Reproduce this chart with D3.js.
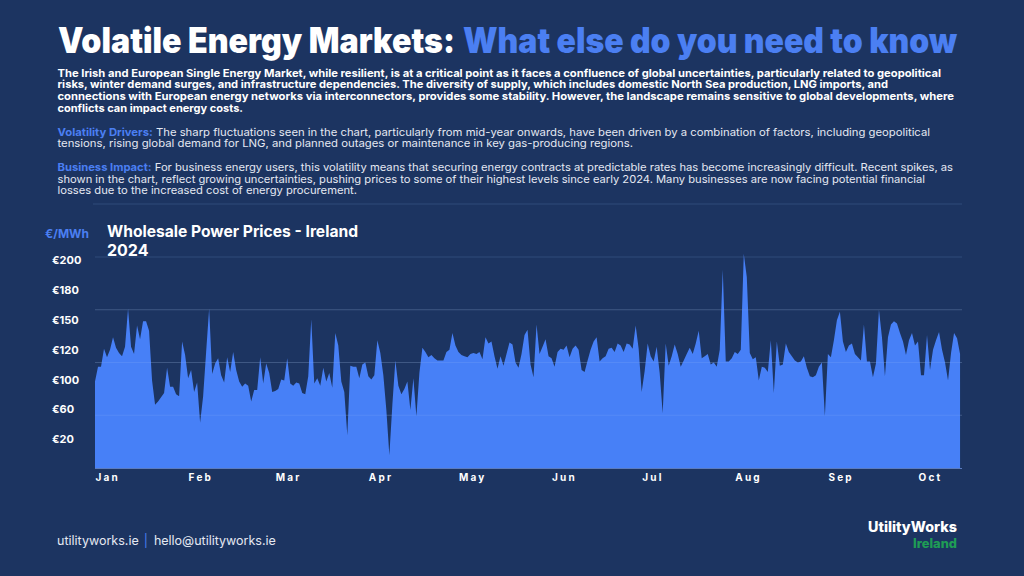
<!DOCTYPE html>
<html>
<head>
<meta charset="utf-8">
<script src="https://cdn.jsdelivr.net/npm/d3@7/dist/d3.min.js"></script>
<style>
  html, body { margin: 0; padding: 0; background: #1c3461; }
  svg { display: block; }
  text { font-family: Inter, "Open Sans", sans-serif; }
</style>
</head>
<body>
<svg id="chart" width="1024" height="576"></svg>
<script>
// ---------- DATA ----------
const startDate = "2024-01-01";
// daily wholesale power price, €/MWh, Jan 1 .. Oct 15 2024
const prices = [
  82, 96, 96,113,105,112,124,114,109,106,115,151,115,108,135,122,139,139,130, 83,
  60, 63, 67, 71, 95, 77, 77, 70, 68,120,107, 85, 93, 72, 81, 43, 68,110,151, 89,
  99,104, 88, 81,105, 91,110, 93, 82, 77, 80, 78, 63, 74, 74,105, 80, 99, 90, 72,
  73, 75, 84, 83,104, 80, 78, 81, 80, 71, 70, 87,141, 80, 85, 78, 95, 82, 90, 76,
 128,116, 82, 72, 31, 97, 96, 96, 85, 98,100, 87, 84, 88,121,109, 88, 55, 12, 60,
 102, 78, 70, 75, 82, 55, 85, 49, 90,114,110,105,107,104,102,102,102,110,112,128,
 116,110,107,106,105,108,109,108,110,103,124,118,120,106, 94,106, 97,108,119,117,
 100, 95,108,126,131, 98, 86,136,108,115,122,106,104, 96,110,113,112,116,105,113,
 116,112, 93, 91,102,112,120,124,101,104,106,113,114,110,118,116,110,118,117,113,
 135,113, 72, 92,118,106,101,115, 90, 52,118, 97,106,117,108, 96,102,108,114,108,
 118,130,104,106,108, 98,100, 96,112,188,101,101,104,110,108,112,203,181,109,103,
 105, 83, 96, 95, 91,121, 71,120, 97, 98,118,110,106,102,100,101,106, 95, 87, 86,
  88, 96,100, 49,108,105,121,140,148,120,110,116,118,108,105,102,136,101,101, 86,
  99,150,124, 87,124,136,139,137,128,120,107,121,128,116,120, 88, 88,126, 93,112,
 121,129,112,100, 83,109,128,123,108
];
const yGridValues = [50, 100, 150, 200];
const yTickLabels = ["€200", "€180", "€150", "€120", "€100", "€60", "€20"];
const unitLabel = "€/MWh";
const chartTitle = "Wholesale Power Prices - Ireland";
const chartYear = "2024";

const titleWhite = "Volatile Energy Markets:";
const titleBlue = "What else do you need to know";
const introLines = [
  "The Irish and European Single Energy Market, while resilient, is at a critical point as it faces a confluence of global uncertainties, particularly related to geopolitical",
  "risks, winter demand surges, and infrastructure dependencies. The diversity of supply, which includes domestic North Sea production, LNG imports, and",
  "connections with European energy networks via interconnectors, provides some stability. However, the landscape remains sensitive to global developments, where",
  "conflicts can impact energy costs."
];
const driversLead = "Volatility Drivers:";
const driversLines = [
  " The sharp fluctuations seen in the chart, particularly from mid-year onwards, have been driven by a combination of factors, including geopolitical",
  "tensions, rising global demand for LNG, and planned outages or maintenance in key gas-producing regions."
];
const impactLead = "Business Impact:";
const impactLines = [
  " For business energy users, this volatility means that securing energy contracts at predictable rates has become increasingly difficult. Recent spikes, as",
  "shown in the chart, reflect growing uncertainties, pushing prices to some of their highest levels since early 2024. Many businesses are now facing potential financial",
  "losses due to the increased cost of energy procurement."
];
const footerSite = "utilityworks.ie";
const footerMail = "hello@utilityworks.ie";
const logoName = "UtilityWorks";
const logoRegion = "Ireland";

// ---------- STYLE ----------
const C = {
  bg: "#1c3461",
  blue: "#4b7ff2",
  area: "#4780f7",
  white: "#ffffff",
  body: "#e4e8f2",
  grid: "#2f4a7a",
  base: "#5b7cc0",
  green: "#1f9d55"
};

const svg = d3.select("#chart");
svg.append("rect").attr("width", 1024).attr("height", 576).attr("fill", C.bg);

// ---------- HEADER ----------
svg.append("text").attr("x", 58).attr("y", 52.5)
  .attr("font-size", 35).attr("font-weight", 900).attr("fill", C.white)
  .attr("textLength", 397).attr("lengthAdjust", "spacingAndGlyphs")
  .text(titleWhite);
svg.append("text").attr("x", 463).attr("y", 52.5)
  .attr("font-size", 35).attr("font-weight", 900).attr("fill", C.blue)
  .attr("textLength", 494).attr("lengthAdjust", "spacingAndGlyphs")
  .text(titleBlue);

function para(lines, y0, ends, lead, bold) {
  lines.forEach((ln, i) => {
    const t = svg.append("text").attr("x", 57.5).attr("y", y0 + i * 11.7)
      .attr("font-size", 10.8).attr("fill", bold ? C.white : C.body)
      .attr("font-weight", bold ? 700 : 400)
      .attr("textLength", ends[i] - 57.5).attr("lengthAdjust", "spacingAndGlyphs");
    if (i === 0 && lead) {
      t.append("tspan").attr("fill", C.blue).attr("font-weight", 700).text(lead);
    }
    t.append("tspan").text(ln);
  });
}
para(introLines, 76.5, [941, 888, 954, 243], null, true);
para(driversLines, 135.5, [930, 633], driversLead, false);
para(impactLines, 171, [953, 925, 357], impactLead, false);

// separator under text
svg.append("line").attr("x1", 93).attr("x2", 962).attr("y1", 204).attr("y2", 204)
  .attr("stroke", C.grid).attr("stroke-width", 1);

// ---------- CHART ----------
const parse = d3.timeParse("%Y-%m-%d");
const t0 = parse(startDate);
const data = prices.map((v, i) => ({ date: d3.timeDay.offset(t0, i), value: v }));

const x = d3.scaleTime()
  .domain([t0, parse("2024-10-01")])
  .range([95, 918]);
const y = d3.scaleLinear().domain([0, 200]).range([468, 257]);

// gridlines
svg.append("g").selectAll("line").data(yGridValues).join("line")
  .attr("x1", 95).attr("x2", 962)
  .attr("y1", d => y(d)).attr("y2", d => y(d))
  .attr("stroke", C.grid).attr("stroke-width", 1);

// area
const area = d3.area()
  .x(d => x(d.date)).y0(y(0)).y1(d => y(d.value))
  .curve(d3.curveLinear);
svg.append("path").datum(data).attr("d", area).attr("fill", C.area);

// gridlines visible through area (faint)
svg.append("g").selectAll("line").data(yGridValues.slice(0, 3)).join("line")
  .attr("x1", 95).attr("x2", 962)
  .attr("y1", d => y(d)).attr("y2", d => y(d))
  .attr("stroke", "#ffffff").attr("stroke-opacity", 0.08).attr("stroke-width", 1);

// x axis
const xAxis = d3.axisBottom(x)
  .ticks(d3.timeMonth.every(1))
  .tickFormat(d3.timeFormat("%b"))
  .tickSize(0).tickPadding(6);
const gx = svg.append("g").attr("transform", `translate(0,${y(0)})`).call(xAxis);
gx.select(".domain").remove();
gx.selectAll("text")
  .attr("text-anchor", "start")
  .attr("fill", C.white).attr("font-size", 10).attr("font-weight", 700)
  .attr("letter-spacing", "2.2px")
  .attr("font-family", "Inter, sans-serif");
svg.append("line").attr("x1", 95).attr("x2", 962).attr("y1", y(0) + 0.5).attr("y2", y(0) + 0.5)
  .attr("stroke", C.base).attr("stroke-width", 1);

// y labels (evenly spaced, as in the original)
const yl = d3.scalePoint().domain(yTickLabels).range([260, 439.5]);
svg.append("g").selectAll("text").data(yTickLabels).join("text")
  .attr("x", 52).attr("y", d => yl(d)).attr("dy", "0.35em")
  .attr("fill", C.white).attr("font-size", 11).attr("font-weight", 700)
  .text(d => d);

svg.append("text").attr("x", 45).attr("y", 238)
  .attr("fill", C.blue).attr("font-size", 11.5).attr("font-weight", 700)
  .attr("textLength", 44).attr("lengthAdjust", "spacingAndGlyphs")
  .text(unitLabel);

svg.append("text").attr("x", 107).attr("y", 237)
  .attr("fill", C.white).attr("font-size", 16).attr("font-weight", 700)
  .attr("textLength", 251).attr("lengthAdjust", "spacingAndGlyphs")
  .text(chartTitle);
svg.append("text").attr("x", 107).attr("y", 256)
  .attr("fill", C.white).attr("font-size", 16).attr("font-weight", 700)
  .text(chartYear);

// ---------- FOOTER ----------
const ft = svg.append("text").attr("x", 57).attr("y", 544.5)
  .attr("font-size", 12.5).attr("fill", C.body);
ft.append("tspan").text(footerSite);
ft.append("tspan").attr("dx", 5).attr("fill", C.blue).text("|");
ft.append("tspan").attr("dx", 6).text(footerMail);

svg.append("text").attr("x", 868).attr("y", 532)
  .attr("font-size", 14).attr("font-weight", 800).attr("fill", C.white)
  .attr("textLength", 89).attr("lengthAdjust", "spacingAndGlyphs")
  .text(logoName);
svg.append("text").attr("x", 913).attr("y", 548)
  .attr("font-size", 12.5).attr("font-weight", 800).attr("fill", C.green)
  .attr("textLength", 44).attr("lengthAdjust", "spacingAndGlyphs")
  .text(logoRegion);
</script>
</body>
</html>
